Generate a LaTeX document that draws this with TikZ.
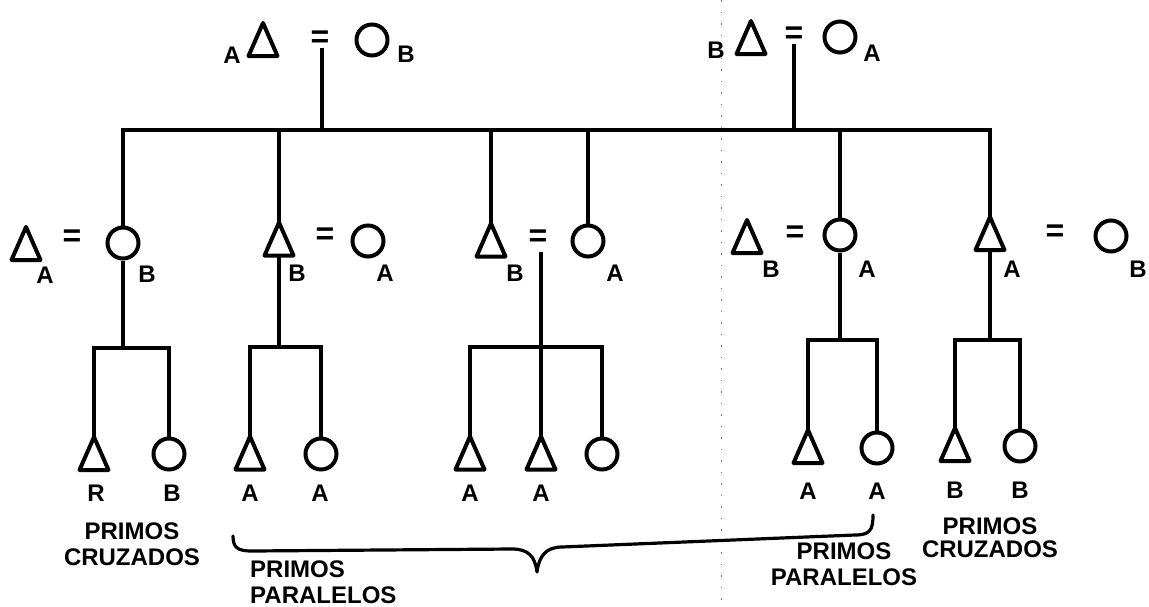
\documentclass[tikz,border=0pt]{standalone}
\usepackage{fontspec}
\setmainfont{Liberation Sans}
\begin{document}
\begin{tikzpicture}[x=1pt,y=-1pt,
  ln/.style={line width=3.2pt},
  shp/.style={line width=4pt, line join=round},
  circ/.style={circle, draw, line width=4pt, minimum size=31pt, inner sep=0pt},
  lab/.style={font=\fontsize{24}{26}\selectfont\bfseries, inner sep=0pt, align=center},
  eqs/.style={font=\fontsize{32}{32}\selectfont\bfseries, inner sep=0pt},
  foldline/.style={black!50, line width=1pt, dash pattern=on 1.5pt off 10pt},
  bracepath/.style={line width=3.2pt, line join=round, line cap=round},
  tri/.pic={\draw[shp] (0,-16.5) -- (14.5,16.5) -- (-14.5,16.5) -- cycle;
            \coordinate (-top) at (0,-16.5); \coordinate (-bot) at (0,16.5);}
]
\useasboundingbox (0,0) rectangle (1149,606);

% scan fold line
\coordinate (foldT) at (721,0);
\coordinate (foldB) at (721,606);
\draw[foldline] (foldT) -- (foldB);

% ---- top generation
\node[lab] (a0) at (232,55) {A};
\pic (t0) at (263,39.5) {tri};
\node[eqs] (e0) at (320,39) {=};
\node[circ] (c0) at (372,40) {};
\node[lab] (b0) at (406,54) {B};

\node[lab] (b0b) at (716,50) {B};
\pic (t0b) at (751,37.5) {tri};
\node[eqs] (e0b) at (794,35) {=};
\node[circ] (c0b) at (840,37) {};
\node[lab] (a0b) at (872,53) {A};

\coordinate (m0) at (322,130);
\coordinate (m0b) at (794,130);
\draw[ln] (e0.south -| m0) -- (m0);
\draw[ln] (e0b.south -| m0b) -- (m0b);

% ---- second generation
\pic (t1) at (26,243.5) {tri};
\node[lab] (t1l) at (45,275) {A};
\node[eqs] (e1) at (72,238) {=};
\node[circ] (c1) at (123,243) {};
\node[lab] (c1l) at (147,274) {B};

\pic (t2) at (279,239) {tri};
\node[lab] (t2l) at (297,273) {B};
\node[eqs] (e2) at (325,236) {=};
\node[circ] (c2) at (368,241) {};
\node[lab] (c2l) at (385,273) {A};

\pic (t3) at (491,240) {tri};
\node[lab] (t3l) at (515,273) {B};
\node[eqs] (e3) at (538,238) {=};
\node[circ] (c3) at (588,241) {};
\node[lab] (c3l) at (615,273) {A};

\pic (t4) at (747,236.5) {tri};
\node[lab] (t4l) at (771,269) {B};
\node[eqs] (e4) at (795,234) {=};
\node[circ] (c4) at (840,235) {};
\node[lab] (c4l) at (867,269) {A};

\pic (t5) at (990,233.5) {tri};
\node[lab] (t5l) at (1012,269) {A};
\node[eqs] (e5) at (1055,233) {=};
\node[circ] (c5) at (1111,236) {};
\node[lab] (c5l) at (1138,269) {B};

% sibling line of the second generation
\draw[ln] (c1.north) |- (m0) -- (m0b) -| (t5-top);
\draw[ln] (t2-top) -- (t2-top |- m0);
\draw[ln] (t3-top) -- (t3-top |- m0);
\draw[ln] (c3.north) -- (c3.north |- m0);
\draw[ln] (c4.north) -- (c4.north |- m0);

% ---- third generation
\pic (k1a) at (94,453.5) {tri};
\node[circ] (k1b) at (169,454) {};
\node[lab] (k1al) at (96,493) {R};
\node[lab] (k1bl) at (172,493) {B};

\pic (k2a) at (250,453) {tri};
\node[circ] (k2b) at (321,454) {};
\node[lab] (k2al) at (250,493) {A};
\node[lab] (k2bl) at (320,493) {A};

\pic (k3a) at (470,453) {tri};
\pic (k3b) at (541,453) {tri};
\node[circ] (k3c) at (602,454) {};
\node[lab] (k3al) at (470,493) {A};
\node[lab] (k3bl) at (541,493) {A};

\pic (k4a) at (808,446.5) {tri};
\node[circ] (k4b) at (877,448) {};
\node[lab] (k4al) at (808,491) {A};
\node[lab] (k4bl) at (877,491) {A};

\pic (k5a) at (955,444.5) {tri};
\node[circ] (k5b) at (1020,446) {};
\node[lab] (k5al) at (955,490) {B};
\node[lab] (k5bl) at (1020,490) {B};

% descent lines and sibling brackets
\coordinate (j1) at (123,348);
\draw[ln] (c1.south) -- (j1);
\draw[ln] (k1a-top) |- (j1) -| (k1b.north);

\coordinate (j2) at (279,347);
\draw[ln] (t2-bot) -- (j2);
\draw[ln] (k2a-top) |- (j2) -| (k2b.north);

\coordinate (j3) at (541,347);
\draw[ln, shorten <=5pt] (e3.south -| j3) -- (j3);
\draw[ln] (k3a-top) |- (j3) -| (k3c.north);
\draw[ln] (k3b-top) -- (k3b-top |- j3);

\coordinate (j4) at (840,340);
\draw[ln] (c4.south) -- (j4);
\draw[ln] (k4a-top) |- (j4) -| (k4b.north);

\coordinate (j5) at (990,340);
\draw[ln] (t5-bot) -- (j5);
\draw[ln] (k5a-top) |- (j5) -| (k5b.north);

% ---- captions
\node[lab] (pc1) at (132,544) {PRIMOS\\CRUZADOS};
\node[lab, align=left, anchor=west] (pp1) at (250,582) {PRIMOS\\PARALELOS};
\node[lab] (pp2) at (844,564) {PRIMOS\\PARALELOS};
\node[lab, font=\fontsize{24}{23}\selectfont\bfseries] (pc2) at (990,538) {PRIMOS\\CRUZADOS};

% brace
\coordinate (brL) at (233,536);
\coordinate (brT) at (537,572);
\coordinate (brR) at (873,515);
\draw[bracepath] (brL) .. controls (233,548) and (238,551) .. (252,551) -- (512,549)
  .. controls (528,549) and (535,556) .. (brT)
  .. controls (539,556) and (546,547) .. (562,547) -- (855,535)
  .. controls (870,535) and (873,530) .. (brR);
\end{tikzpicture}
\end{document}
